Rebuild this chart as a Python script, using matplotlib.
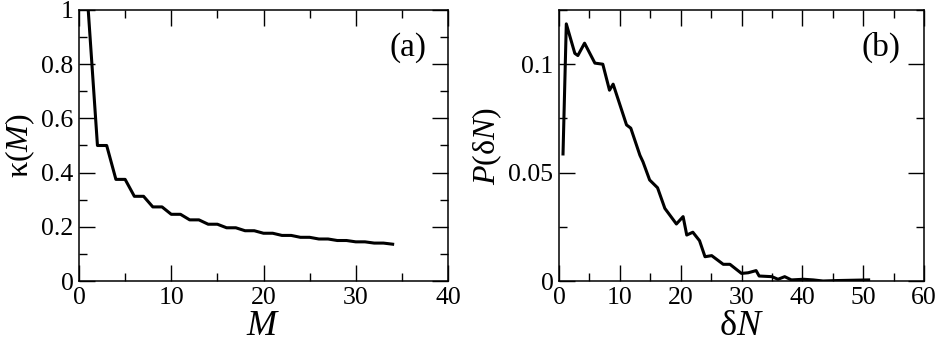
import matplotlib
matplotlib.use("Agg")
import matplotlib.pyplot as plt
from matplotlib.ticker import MultipleLocator, FixedLocator, FixedFormatter

# Panel (a) data
M_values = list(range(1, 35))
kappa = [1.0, 0.5, 0.5, 0.375, 0.375, 0.3125, 0.3125, 0.2734, 0.2734, 0.2461,
         0.2461, 0.2256, 0.2256, 0.2095, 0.2095, 0.1964, 0.1964, 0.1855, 0.1855,
         0.1762, 0.1762, 0.1682, 0.1682, 0.1612, 0.1612, 0.1550, 0.1550, 0.1494,
         0.1494, 0.1445, 0.1445, 0.1399, 0.1399, 0.1358]

# Panel (b) data
dN = [0.66, 1.2, 2.6, 3.1, 4.2, 5.9, 7.2, 8.3, 8.9, 11.1, 11.8, 13.3, 13.8, 14.9,
      16.2, 17.4, 19.3, 20.4, 21.0, 22.0, 23.1, 24.0, 25.1, 27.0, 28.1, 30.0,
      31.1, 32.4, 32.9, 35.0, 36.0, 37.1, 38.2, 40.2, 41.8, 43.4, 45.6, 50.9]
P_dN = [0.0586, 0.1186, 0.1050, 0.1040, 0.1097, 0.1005, 0.1000, 0.0880, 0.0908,
        0.0720, 0.0705, 0.0580, 0.0550, 0.0466, 0.0430, 0.0335, 0.0263, 0.0297,
        0.0212, 0.0225, 0.0186, 0.0112, 0.0117, 0.0077, 0.0077, 0.0035, 0.0038,
        0.0048, 0.0023, 0.0020, 0.0008, 0.0020, 0.0005, 0.0008, 0.0005, 0.0000,
        0.0002, 0.0005]

a_xticks = [0, 10, 20, 30, 40]
a_xlabels = ["0", "10", "20", "30", "40"]
a_yticks = [0, 0.2, 0.4, 0.6, 0.8, 1.0]
a_ylabels = ["0", "0.2", "0.4", "0.6", "0.8", "1"]
b_xticks = [0, 10, 20, 30, 40, 50, 60]
b_xlabels = ["0", "10", "20", "30", "40", "50", "60"]
b_yticks = [0, 0.05, 0.1]
b_ylabels = ["0", "0.05", "0.1"]

plt.rcParams['font.family'] = ['Liberation Serif', 'DejaVu Serif']
plt.rcParams['mathtext.fontset'] = 'custom'
plt.rcParams['mathtext.rm'] = 'Liberation Serif'
plt.rcParams['mathtext.it'] = 'Liberation Serif:italic'

fig = plt.figure(figsize=(9.38, 3.45), dpi=100)
axA = fig.add_axes([79/938, 1-281/345, (448-79)/938, (281-10)/345])
axB = fig.add_axes([559/938, 1-281/345, (924-559)/938, (281-10)/345])

def style(ax, xt, xl, yt, yl, xminor, yminor):
    ax.xaxis.set_major_locator(FixedLocator(xt))
    ax.xaxis.set_major_formatter(FixedFormatter(xl))
    ax.yaxis.set_major_locator(FixedLocator(yt))
    ax.yaxis.set_major_formatter(FixedFormatter(yl))
    ax.xaxis.set_minor_locator(MultipleLocator(xminor))
    ax.yaxis.set_minor_locator(MultipleLocator(yminor))
    ax.tick_params(which='both', direction='in', top=True, right=True, width=1.0)
    ax.tick_params(which='major', length=11.5, labelsize=18.5, pad=4)
    ax.tick_params(which='minor', length=5.8)
    for s in ax.spines.values():
        s.set_linewidth(1.1)

axA.plot(M_values, kappa, color='black', lw=2.2)
axA.set_xlim(0, 40)
axA.set_ylim(0, 1)
style(axA, a_xticks, a_xlabels, a_yticks, a_ylabels, 5, 0.1)
axA.set_xlabel(r'$M$', fontsize=26, labelpad=1)
axA.set_ylabel(r'$\mathrm{κ(}M\mathrm{)}$', fontsize=23, labelpad=3)
axA.text(0.892, 0.863, '(a)', transform=axA.transAxes, fontsize=24, ha='center', va='center')

axB.plot(dN, P_dN, color='black', lw=2.2)
axB.set_xlim(0, 60)
axB.set_ylim(0, 0.125)
style(axB, b_xticks, b_xlabels, b_yticks, b_ylabels, 5, 0.025)
axB.set_xlabel(r'$\mathrm{δ}N$', fontsize=26, labelpad=1)
axB.set_ylabel(r'$P\mathrm{(δ}N\mathrm{)}$', fontsize=23, labelpad=3)
axB.text(0.882, 0.863, '(b)', transform=axB.transAxes, fontsize=24, ha='center', va='center')

fig.savefig('out.png', dpi=100)
